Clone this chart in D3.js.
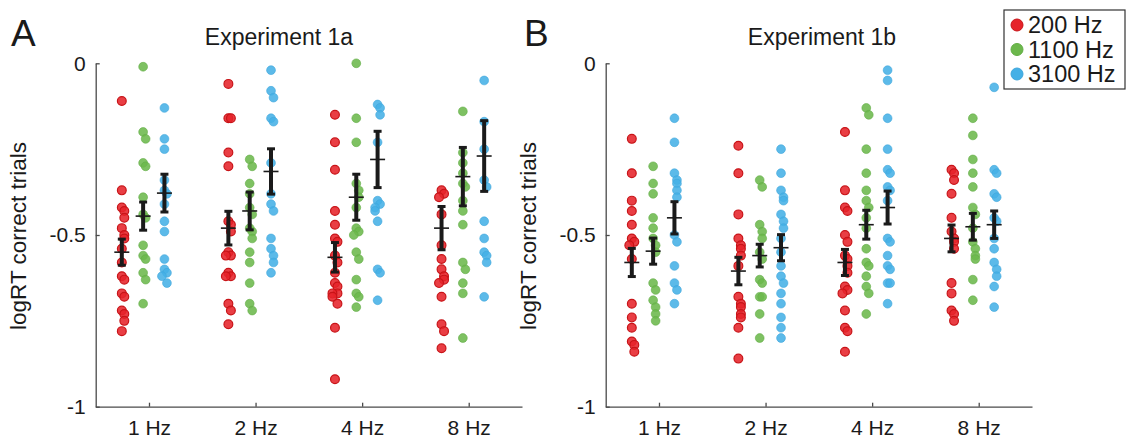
<!DOCTYPE html>
<html><head><meta charset="utf-8">
<script src="https://cdn.jsdelivr.net/npm/d3@7"></script>
<style>body{margin:0;background:#fff} text{font-family:"Liberation Sans",Arial,sans-serif;fill:#1a1a1a}</style>
</head><body><svg id="c" width="1136" height="438"></svg>
<script>
// ---------- data ----------
const freqs = ["1 Hz","2 Hz","4 Hz","8 Hz"];
const tones = ["200 Hz","1100 Hz","3100 Hz"];
const yTicks = [0,-0.5,-1];
const yTickLabels = ["0","-0.5","-1"];

// Experiment 1a (per frequency: 1,2,4,8 Hz)
const e1a_200 = [
  [-0.11,-0.37,-0.42,-0.43,-0.45,-0.48,-0.50,-0.51,-0.54,-0.58,-0.62,-0.63,-0.67,-0.68,-0.72,-0.73,-0.75,-0.78],
  [-0.06,-0.16,-0.16,-0.26,-0.30,-0.46,-0.47,-0.49,-0.55,-0.56,-0.56,-0.61,-0.62,-0.62,-0.70,-0.72,-0.76],
  [-0.15,-0.23,-0.31,-0.43,-0.47,-0.51,-0.52,-0.56,-0.58,-0.61,-0.64,-0.65,-0.67,-0.67,-0.68,-0.70,-0.77,-0.92],
  [-0.37,-0.38,-0.39,-0.44,-0.53,-0.57,-0.60,-0.62,-0.63,-0.64,-0.68,-0.76,-0.78,-0.83]
];
const e1a_1100 = [
  [-0.01,-0.20,-0.22,-0.29,-0.30,-0.39,-0.44,-0.45,-0.53,-0.56,-0.57,-0.61,-0.63,-0.70],
  [-0.28,-0.30,-0.35,-0.38,-0.42,-0.44,-0.48,-0.49,-0.51,-0.55,-0.58,-0.64,-0.70,-0.72],
  [0.00,-0.16,-0.23,-0.35,-0.37,-0.39,-0.42,-0.48,-0.49,-0.50,-0.55,-0.57,-0.63,-0.67,-0.68,-0.71],
  [-0.14,-0.26,-0.29,-0.32,-0.35,-0.36,-0.40,-0.43,-0.47,-0.58,-0.60,-0.64,-0.67,-0.80]
];
const e1a_3100 = [
  [-0.13,-0.22,-0.25,-0.34,-0.37,-0.38,-0.41,-0.46,-0.49,-0.57,-0.60,-0.61,-0.62,-0.64],
  [-0.02,-0.08,-0.10,-0.16,-0.17,-0.29,-0.38,-0.41,-0.43,-0.51,-0.54,-0.56,-0.58,-0.61],
  [-0.12,-0.13,-0.15,-0.23,-0.40,-0.41,-0.42,-0.43,-0.46,-0.60,-0.61,-0.69],
  [-0.05,-0.17,-0.25,-0.34,-0.36,-0.46,-0.51,-0.55,-0.56,-0.58,-0.68]
];
const e1a_mean = [[-0.55,-0.48,-0.565,-0.48],[-0.445,-0.43,-0.39,-0.33],[-0.378,-0.315,-0.28,-0.27]];
const e1a_sem  = [[0.038,0.049,0.043,0.063],[0.041,0.055,0.067,0.085],[0.055,0.066,0.082,0.103]];

// Experiment 1b
const e1b_200 = [
  [-0.22,-0.32,-0.40,-0.43,-0.47,-0.51,-0.52,-0.53,-0.57,-0.70,-0.74,-0.77,-0.81,-0.82,-0.84],
  [-0.24,-0.32,-0.44,-0.51,-0.53,-0.54,-0.56,-0.59,-0.68,-0.70,-0.71,-0.73,-0.74,-0.77,-0.86],
  [-0.20,-0.37,-0.42,-0.43,-0.50,-0.52,-0.56,-0.57,-0.59,-0.61,-0.65,-0.66,-0.67,-0.72,-0.77,-0.78,-0.84],
  [-0.31,-0.32,-0.34,-0.38,-0.45,-0.49,-0.51,-0.52,-0.54,-0.64,-0.67,-0.72,-0.73,-0.75]
];
const e1b_1100 = [
  [-0.30,-0.35,-0.38,-0.45,-0.48,-0.51,-0.53,-0.55,-0.64,-0.66,-0.69,-0.71,-0.73,-0.75],
  [-0.34,-0.36,-0.47,-0.49,-0.51,-0.55,-0.57,-0.63,-0.64,-0.68,-0.68,-0.73,-0.80],
  [-0.13,-0.15,-0.25,-0.32,-0.37,-0.40,-0.42,-0.45,-0.48,-0.54,-0.58,-0.59,-0.62,-0.65,-0.67,-0.73],
  [-0.16,-0.21,-0.28,-0.32,-0.36,-0.42,-0.44,-0.48,-0.52,-0.54,-0.56,-0.57,-0.63,-0.69]
];
const e1b_3100 = [
  [-0.16,-0.23,-0.32,-0.34,-0.35,-0.37,-0.39,-0.50,-0.52,-0.59,-0.64,-0.66,-0.70],
  [-0.25,-0.32,-0.37,-0.39,-0.40,-0.44,-0.46,-0.48,-0.51,-0.55,-0.59,-0.62,-0.64,-0.67,-0.70,-0.74,-0.77,-0.80],
  [-0.02,-0.05,-0.16,-0.25,-0.31,-0.32,-0.36,-0.37,-0.40,-0.51,-0.52,-0.56,-0.59,-0.60,-0.64,-0.64,-0.70],
  [-0.07,-0.31,-0.32,-0.38,-0.39,-0.45,-0.46,-0.51,-0.54,-0.58,-0.60,-0.62,-0.65,-0.71]
];
const e1b_mean = [[-0.58,-0.605,-0.58,-0.51],[-0.547,-0.56,-0.47,-0.476],[-0.45,-0.537,-0.42,-0.47]];
const e1b_sem  = [[0.041,0.040,0.038,0.039],[0.038,0.033,0.042,0.039],[0.047,0.038,0.048,0.040]];

// ---------- drawing ----------
const fills = ["#e6232a","#6cb84c","#45b0e6"];
const strokes = ["#c81418","#62ad44","#3ea6dc"];
const offsets = [-0.255,-0.055,0.145];

const svg = d3.select("#c");

function panel(cfg){
  const x = d3.scaleLinear().domain([0.5,4.5]).range([cfg.left, cfg.left+426.3]);
  const y = d3.scaleLinear().domain([-1,0]).range([406.7,63.3]);
  const g = svg.append("g");

  // axes
  const yAx = g.append("g").attr("transform",`translate(${cfg.left},0)`)
    .call(d3.axisLeft(y).tickValues(yTicks).tickFormat((d,i)=>yTickLabels[i]).tickSizeInner(-4).tickSizeOuter(0).tickPadding(10));
  const xAx = g.append("g").attr("transform",`translate(0,406.7)`)
    .call(d3.axisBottom(x).tickValues([1,2,3,4]).tickFormat((d,i)=>freqs[i]).tickSizeInner(-4).tickSizeOuter(0).tickPadding(10));
  [yAx,xAx].forEach(a=>{
    a.selectAll(".domain").attr("stroke","#4a4a4a").attr("stroke-width",1.3);
    a.selectAll(".tick line").attr("stroke","#4a4a4a").attr("stroke-width",1.3);
    a.selectAll("text").attr("font-size",21).style("font-family",'"Liberation Sans",Arial,sans-serif').attr("fill","#1a1a1a");
  });
  xAx.selectAll("text").attr("dy","0.85em");

  // points
  cfg.series.forEach((ser,si)=>{
    ser.forEach((vals,fi)=>{
      const cx = x(fi+1+offsets[si]);
      const placed=[];
      vals.forEach(v=>{
        const py=y(v);
        const n = placed.filter(p=>Math.abs(p-py)<7).length;
        const dx = [0,2.5,-2.5,4,-4][n%5];
        placed.push(py);
        g.append("circle").attr("cx",cx+dx).attr("cy",py).attr("r",4.4)
          .attr("fill",fills[si]).attr("fill-opacity",0.88)
          .attr("stroke",strokes[si]).attr("stroke-width",si===0?1.2:0.6);
      });
    });
  });

  // means & error bars
  cfg.means.forEach((ms,si)=>{
    ms.forEach((m,fi)=>{
      const cx = x(fi+1+offsets[si]);
      const s = cfg.sems[si][fi];
      const y1=y(m+s), y2=y(m-s);
      g.append("line").attr("x1",cx).attr("x2",cx).attr("y1",y1).attr("y2",y2).attr("stroke","#1a1a1a").attr("stroke-width",4);
      [y1,y2].forEach(yy=>g.append("line").attr("x1",cx-4).attr("x2",cx+4).attr("y1",yy).attr("y2",yy).attr("stroke","#1a1a1a").attr("stroke-width",3));
      g.append("line").attr("x1",cx-7.5).attr("x2",cx+7.5).attr("y1",y(m)).attr("y2",y(m)).attr("stroke","#1a1a1a").attr("stroke-width",1.6);
    });
  });

  // labels
  g.append("text").attr("x",cfg.letterX).attr("y",46).attr("font-size",37).text(cfg.letter);
  g.append("text").attr("x",cfg.titleX).attr("y",45).attr("font-size",23).attr("text-anchor","middle").text(cfg.title);
  g.append("text").attr("transform",`translate(${cfg.left-70},236) rotate(-90)`).attr("text-anchor","middle").attr("font-size",22.5).text("logRT correct trials");
}

panel({left:95.7, series:[e1a_200,e1a_1100,e1a_3100], means:e1a_mean, sems:e1a_sem, letter:"A", letterX:11, title:"Experiment 1a", titleX:279});
panel({left:605.7, series:[e1b_200,e1b_1100,e1b_3100], means:e1b_mean, sems:e1b_sem, letter:"B", letterX:524, title:"Experiment 1b", titleX:822});

// legend
const lg = svg.append("g");
lg.append("rect").attr("x",1004).attr("y",10).attr("width",121).attr("height",79).attr("fill","#fff").attr("stroke","#333").attr("stroke-width",1.2);
tones.forEach((t,i)=>{
  const yy = 25+i*24.5;
  lg.append("circle").attr("cx",1017).attr("cy",yy).attr("r",6).attr("fill",fills[i]).attr("stroke",strokes[i]).attr("stroke-width",1);
  lg.append("text").attr("x",1028).attr("y",yy).attr("dy","0.36em").attr("font-size",23.5).text(t);
});
</script></body></html>
